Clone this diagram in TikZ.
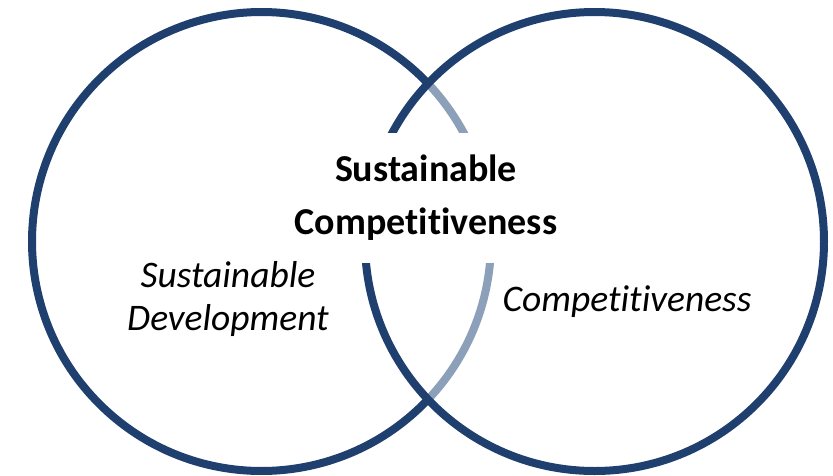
\documentclass[tikz,border=0pt]{standalone}
\usepackage{fontspec}
\setmainfont{Carlito}[Ligatures={NoCommon}]
\definecolor{ringdark}{RGB}{31,64,111}
\definecolor{ringlight}{RGB}{141,160,186}
\begin{document}
\begin{tikzpicture}[x=1pt,y=-1pt,
  ring/.style={line width=8pt},
  boldlabel/.style={font=\fontsize{38}{53}\selectfont\bfseries, align=center, inner sep=0pt},
  itlabel/.style={font=\fontsize{37.5}{43}\selectfont\itshape, align=center, inner sep=0pt}]
\useasboundingbox (0,0) rectangle (833,475);
\coordinate (L) at (261.5,241.5);
\coordinate (R) at (594.5,241.5);
% left circle: dark outside, light inside the right circle
\draw[ring, ringdark] (L) ++(43.5:229.5) arc[start angle=43.5, end angle=316.5, radius=229.5];
\draw[ring, ringlight] (L) ++(-43.5:229.5) arc[start angle=-43.5, end angle=43.5, radius=229.5];
% right circle
\draw[ring, ringdark] (R) circle[radius=229.5];
% white band behind the central label
\fill[white] (350,133) rectangle (508,263);
\node[boldlabel] (sc) at (426,198) {Sustainable\\Competitiveness};
\node[itlabel] (sd) at (228,299) {Sustainable\\Development};
\node[itlabel] (co) at (627,302) {Competitiveness};
\end{tikzpicture}
\end{document}
